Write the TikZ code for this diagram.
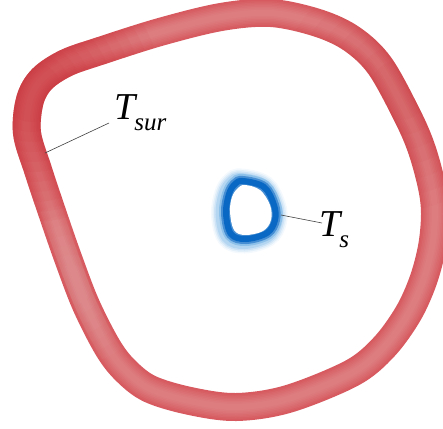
\documentclass[tikz,border=0pt]{standalone}
\usepackage{fontspec}
\setmainfont{Liberation Serif}
\definecolor{ringdark}{RGB}{202,40,48}
\definecolor{ringmid}{RGB}{214,90,95}
\definecolor{ringlight}{RGB}{240,185,185}
\definecolor{coreblue}{RGB}{8,104,196}
\definecolor{glowblue}{RGB}{110,175,228}
\tikzset{
  ringpath/.style={insert path={plot[smooth cycle, tension=0.55] coordinates {
    (27,133) (30,100) (42,79) (66,63) (100,51) (160,32) (221,17) (271,13)
    (318,23) (352,39) (380,66) (408,117) (422,150) (432,187) (435,214) (432,247)
    (423,281) (408,314) (384,347) (352,373) (288,399) (236,407) (190,401) (150,389)
    (126,371) (108,348) (86,305) (68,258) (52,212) (38,170)}}},
  corepath/.style={insert path={plot[smooth cycle, tension=0.6] coordinates {
    (243,181) (264,187) (274,205) (275,220) (267,233) (246,239) (231,234)
    (226,213) (229,194) (235,184)}}},
  holepath/.style={insert path={plot[smooth cycle, tension=0.6] coordinates {
    (245,185) (260,190) (270,205) (271,220) (263,231) (245,235) (234,230)
    (230,212) (232,197) (238,188)}}},
  leader/.style={draw=black!75, line width=0.6pt},
  lbl/.style={inner sep=0pt, anchor=base west, font=\fontsize{38}{40}\selectfont\itshape}
}
\newcommand{\lowsub}[1]{\raisebox{-11pt}{\fontsize{25}{27}\selectfont #1}}
\begin{document}
\begin{tikzpicture}[x=1pt,y=-1pt]
\useasboundingbox (0,0) rectangle (443,428);
% red surroundings ring
\draw[ringmid, line width=28pt, ringpath];
\foreach \w in {24,21,18,15,12,9,6}{
  \draw[ringlight, line width=\w pt, opacity=0.07, ringpath];
}
\foreach \r in {30,40,...,130}{
  \begin{scope}
    \clip (32,92) circle[radius=\r pt];
    \draw[ringdark, line width=28pt, opacity=0.06, ringpath];
  \end{scope}
}
\foreach \r in {30,45,...,120}{
  \begin{scope}
    \clip (400,90) circle[radius=\r pt];
    \draw[ringdark, line width=28pt, opacity=0.035, ringpath];
  \end{scope}
}
\foreach \r in {20,30,...,80}{
  \begin{scope}
    \clip (72,285) circle[radius=\r pt];
    \draw[ringlight, line width=22pt, opacity=0.04, ringpath];
  \end{scope}
}
% blue body ring
\begin{scope}[shift={(-1.5,1)}]
  \foreach \w/\o in {27/0.08, 24/0.12, 21/0.18, 18/0.26}{
    \draw[glowblue, line width=\w pt, opacity=\o, corepath];
  }
\end{scope}
\draw[glowblue, line width=14pt, opacity=0.55, corepath];
\draw[coreblue!75!white, line width=10pt, corepath];
\draw[coreblue, line width=6pt, corepath];
\fill[white, holepath];
% labels
\coordinate (surpt) at (45,153);
\coordinate (spt) at (281,215);
\node[lbl] (tsur) at (114,119) {T\kern-1pt\lowsub{sur}};
\node[lbl] (ts) at (319,236) {T\kern-1pt\lowsub{s}};
\draw[leader] (surpt) -- ([shift={(-5,4)}]tsur.base west);
\draw[leader] (spt) -- ([shift={(3,-13)}]ts.base west);
\end{tikzpicture}
\end{document}
